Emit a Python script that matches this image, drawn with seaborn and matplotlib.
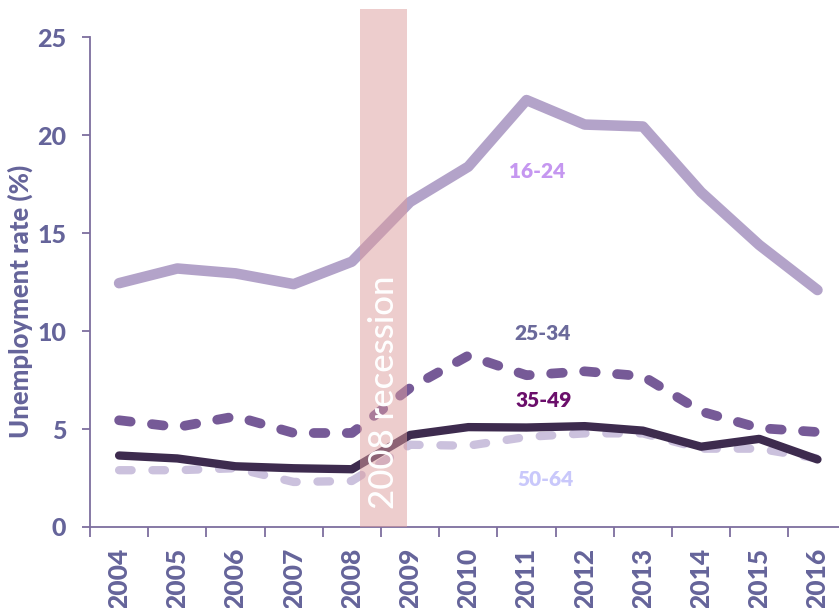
import matplotlib
matplotlib.use("Agg")
import matplotlib.pyplot as plt
import seaborn as sns
import numpy as np
import pandas as pd
from matplotlib.ticker import FixedLocator

years = [2004, 2005, 2006, 2007, 2008, 2009, 2010, 2011, 2012, 2013, 2014, 2015, 2016]
age_16_24 = [12.45, 13.2, 12.95, 12.4, 13.55, 16.6, 18.4, 21.8, 20.55, 20.45, 17.1, 14.4, 12.1]
age_25_34 = [5.45, 5.1, 5.65, 4.8, 4.8, 7.1, 8.75, 7.75, 7.95, 7.7, 5.9, 5.05, 4.85]
age_35_49 = [3.65, 3.5, 3.1, 3.0, 2.95, 4.7, 5.1, 5.08, 5.15, 4.92, 4.1, 4.5, 3.45]
age_50_64 = [2.9, 2.9, 3.0, 2.3, 2.35, 4.2, 4.15, 4.6, 4.78, 4.78, 4.0, 4.0, 3.5]
series_names = ["16-24", "25-34", "35-49", "50-64"]
recession_label = "2008 recession"
ylabel = "Unemployment rate (%)"

sns.set_theme(style="white")
plt.rcParams['font.family'] = ['Lato', 'DejaVu Sans']
plt.rcParams['font.weight'] = 900
plt.rcParams['axes.labelweight'] = 900

axis_col = "#7d6e9e"
tick_col = "#65649a"

fig = plt.figure(figsize=(8.39, 6.08), dpi=100)
ax = fig.add_axes([90/839, 1-527/608, 749/839, 518/608])

df = pd.DataFrame({"year": years, "16-24": age_16_24, "25-34": age_25_34,
                   "35-49": age_35_49, "50-64": age_50_64})

styles = {
    "16-24": dict(color="#b3a3c9", lw=7.6, dashes=None),
    "25-34": dict(color="#765a97", lw=7.0, dashes=(1.2, 2.2)),
    "35-49": dict(color="#3d2b4e", lw=6.0, dashes=None),
    "50-64": dict(color="#cbc1dd", lw=6.0, dashes=(1.5, 2.5)),
}
order = ["50-64", "35-49", "25-34", "16-24"]
for name in order:
    st = styles[name]
    sns.lineplot(data=df, x="year", y=name, ax=ax, color=st["color"], linewidth=st["lw"],
                 zorder=2, legend=False)
    line = ax.lines[-1]
    line.set_solid_capstyle("round")
    line.set_solid_joinstyle("round")
    if st["dashes"] is not None:
        line.set_dashes(st["dashes"])
        line.set_dash_capstyle("round")

ax.axvspan(2008.146, 2008.954, color="#dd9c9d", alpha=0.5, lw=0, zorder=3)
ax.text(2008.56, 6.9, recession_label, rotation=90, color="white", fontsize=25,
        fontweight=500, ha="center", va="center", zorder=4)

label_specs = [
    ("16-24", 2011.18, 18.16, "#c597f0"),
    ("25-34", 2011.27, 9.9, "#6b6a9b"),
    ("35-49", 2011.3, 6.48, "#6b0f6b"),
    ("50-64", 2011.33, 2.4, "#c9c8fb"),
]
for name, x, y, c in label_specs:
    ax.text(x, y, name, color=c, fontsize=15, fontweight=800, ha="center", va="center", zorder=5)

ax.set_xlim(2003.5, 2016.37)
ax.set_ylim(0, 26.45)
ax.set_xticks(years)
ax.set_xticklabels([str(y) for y in years], rotation=90, va="top")
ax.xaxis.set_minor_locator(FixedLocator(np.arange(2003.5, 2016.0, 1.0)))
ax.tick_params(axis="x", which="major", length=0, pad=15, labelsize=19, labelcolor=tick_col)
ax.tick_params(axis="x", which="minor", length=7.5, width=1.3, color=axis_col, direction="out", bottom=True)
ax.set_yticks([0, 5, 10, 15, 20, 25])
ax.set_yticklabels(["0", "5", "10", "15", "20", "25"])
ax.tick_params(axis="y", length=6, width=1.3, color=axis_col, direction="out", left=True, pad=11,
               labelsize=18, labelcolor=tick_col)

ax.set_xlabel("")
ax.set_ylabel(ylabel, fontsize=18.5, fontweight=900, color=tick_col)
ax.yaxis.set_label_coords(-0.076, 0.436)

for s in ["top", "right"]:
    ax.spines[s].set_visible(False)
ax.spines["left"].set_bounds(0, 25)
for s in ["left", "bottom"]:
    ax.spines[s].set_color(axis_col)
    ax.spines[s].set_linewidth(1.3)
ax.grid(False)

fig.savefig("out.png", dpi=100)
